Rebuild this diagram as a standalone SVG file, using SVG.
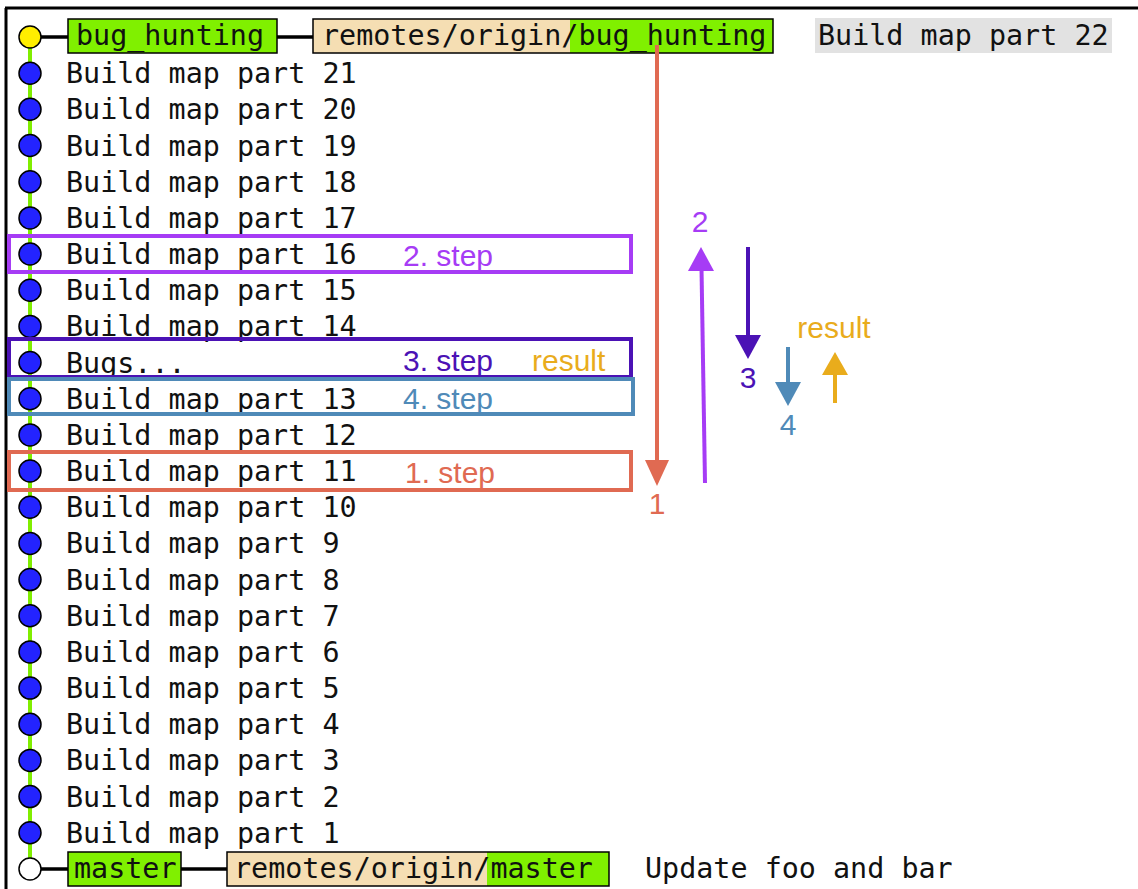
<svg xmlns="http://www.w3.org/2000/svg" width="1138" height="889" viewBox="0 0 1138 889">
<style>
.mono{font-family:"DejaVu Sans Mono","Liberation Mono",monospace;font-size:28.4px;fill:#111}
.lbl{font-family:"Liberation Sans",Arial,sans-serif;font-size:30px}
.dot{fill:#2323ff;stroke:#000;stroke-width:1.5}
.ref{stroke:#000;stroke-width:1.5}
.hb{fill:none;stroke-width:4}
.arr{stroke-width:4;fill:none}
</style>
<rect x="0" y="0" width="1138" height="889" fill="#fff"/>
<path d="M5,8 H1138 M6,8 V889" stroke="#000" stroke-width="3" fill="none"/>

<g id="connectors">
<line x1="30" y1="37" x2="30" y2="869" stroke="#80ee00" stroke-width="4"/>
<line x1="41" y1="37" x2="68" y2="37" stroke="#000" stroke-width="3.5"/>
<line x1="277" y1="37" x2="313" y2="37" stroke="#000" stroke-width="3.5"/>
<line x1="41" y1="869" x2="68" y2="869" stroke="#000" stroke-width="3.5"/>
<line x1="181" y1="869" x2="227" y2="869" stroke="#000" stroke-width="3.5"/>
</g>

<g id="head">
<circle cx="30" cy="37" r="11" fill="#ffee00" stroke="#000" stroke-width="1.5"/>
<rect class="ref" x="68" y="19" width="209" height="34" fill="#80f000"/>
<text class="mono" x="76" y="45">bug_hunting</text>
<rect x="313" y="19" width="257" height="34" fill="#f5deb3"/>
<rect x="570" y="19" width="203" height="34" fill="#80f000"/>
<rect class="ref" x="313" y="19" width="460" height="34" fill="none"/>
<text class="mono" x="322" y="45">remotes/origin/bug_hunting</text>
<rect x="815" y="18" width="297" height="35" fill="#e2e2e2"/>
<text class="mono" x="818" y="45">Build map part 22</text>
</g>

<g id="commits">
<circle class="dot" cx="30" cy="73.2" r="11"/><text class="mono" x="66" y="83">Build map part 21</text>
<circle class="dot" cx="30" cy="109.3" r="11"/><text class="mono" x="66" y="119">Build map part 20</text>
<circle class="dot" cx="30" cy="145.5" r="11"/><text class="mono" x="66" y="155.5">Build map part 19</text>
<circle class="dot" cx="30" cy="181.7" r="11"/><text class="mono" x="66" y="191.7">Build map part 18</text>
<circle class="dot" cx="30" cy="217.9" r="11"/><text class="mono" x="66" y="227.9">Build map part 17</text>
<circle class="dot" cx="30" cy="254" r="11"/><text class="mono" x="66" y="264">Build map part 16</text>
<circle class="dot" cx="30" cy="290.2" r="11"/><text class="mono" x="66" y="300.2">Build map part 15</text>
<circle class="dot" cx="30" cy="326.4" r="11"/><text class="mono" x="66" y="336.4">Build map part 14</text>
<circle class="dot" cx="30" cy="362.5" r="11"/><text class="mono" x="66" y="372.5">Bugs...</text>
<circle class="dot" cx="30" cy="398.7" r="11"/><text class="mono" x="66" y="408.7">Build map part 13</text>
<circle class="dot" cx="30" cy="434.9" r="11"/><text class="mono" x="66" y="444.9">Build map part 12</text>
<circle class="dot" cx="30" cy="471" r="11"/><text class="mono" x="66" y="481">Build map part 11</text>
<circle class="dot" cx="30" cy="507.2" r="11"/><text class="mono" x="66" y="517.2">Build map part 10</text>
<circle class="dot" cx="30" cy="543.4" r="11"/><text class="mono" x="66" y="553.4">Build map part 9</text>
<circle class="dot" cx="30" cy="579.6" r="11"/><text class="mono" x="66" y="589.6">Build map part 8</text>
<circle class="dot" cx="30" cy="615.7" r="11"/><text class="mono" x="66" y="625.7">Build map part 7</text>
<circle class="dot" cx="30" cy="651.9" r="11"/><text class="mono" x="66" y="661.9">Build map part 6</text>
<circle class="dot" cx="30" cy="688.1" r="11"/><text class="mono" x="66" y="698.1">Build map part 5</text>
<circle class="dot" cx="30" cy="724.2" r="11"/><text class="mono" x="66" y="734.2">Build map part 4</text>
<circle class="dot" cx="30" cy="760.4" r="11"/><text class="mono" x="66" y="770.4">Build map part 3</text>
<circle class="dot" cx="30" cy="796.6" r="11"/><text class="mono" x="66" y="806.6">Build map part 2</text>
<circle class="dot" cx="30" cy="832.8" r="11"/><text class="mono" x="66" y="842.8">Build map part 1</text>
</g>

<g id="master">
<circle cx="30" cy="869" r="11" fill="#fff" stroke="#000" stroke-width="1.5"/>
<rect class="ref" x="68" y="852" width="113" height="34" fill="#80f000"/>
<text class="mono" x="74" y="878">master</text>
<rect x="227" y="852" width="260" height="34" fill="#f5deb3"/>
<rect x="487" y="852" width="122" height="34" fill="#80f000"/>
<rect class="ref" x="227" y="852" width="382" height="34" fill="none"/>
<text class="mono" x="234" y="878">remotes/origin/master</text>
<text class="mono" x="645" y="878">Update foo and bar</text>
</g>

<g id="step2">
<rect class="hb" x="9" y="236" width="622" height="36" stroke="#a63cf5"/>
<text class="lbl" x="403" y="266" fill="#a63cf5">2. step</text>
</g>
<g id="step3">
<rect class="hb" x="9" y="339" width="622" height="38" stroke="#4b12b5"/>
<text class="lbl" x="403" y="371" fill="#4b12b5">3. step</text>
<text class="lbl" x="532" y="371" fill="#e9ac1c">result</text>
</g>
<g id="step4">
<rect class="hb" x="9" y="379" width="624" height="35" stroke="#4f8ab8"/>
<text class="lbl" x="403" y="409" fill="#4f8ab8">4. step</text>
</g>
<g id="step1">
<rect class="hb" x="9" y="452" width="622" height="38" stroke="#e06a52"/>
<text class="lbl" x="405" y="483" fill="#e06a52">1. step</text>
</g>

<g id="arrows">
<line class="arr" x1="657" y1="45" x2="657" y2="462" stroke="#e06a52"/>
<polygon points="645,460 669,460 657,486" fill="#e06a52"/>
<text class="lbl" x="657" y="514" text-anchor="middle" fill="#e06a52">1</text>
<line class="arr" x1="705" y1="483" x2="701.5" y2="268" stroke="#a63cf5"/>
<polygon points="688,271 714,271 701,247" fill="#a63cf5"/>
<text class="lbl" x="700" y="232" text-anchor="middle" fill="#a63cf5">2</text>
<line class="arr" x1="748" y1="247" x2="748" y2="337" stroke="#4b12b5"/>
<polygon points="735,335 761,335 748,359" fill="#4b12b5"/>
<text class="lbl" x="748" y="388" text-anchor="middle" fill="#4b12b5">3</text>
<line class="arr" x1="788" y1="347" x2="788" y2="384" stroke="#4f8ab8"/>
<polygon points="775,382 801,382 788,406" fill="#4f8ab8"/>
<text class="lbl" x="788" y="435" text-anchor="middle" fill="#4f8ab8">4</text>
<line class="arr" x1="835" y1="403" x2="835" y2="373" stroke="#e9ac1c"/>
<polygon points="822,375 848,375 835,352" fill="#e9ac1c"/>
<text class="lbl" x="834" y="338" text-anchor="middle" fill="#e9ac1c">result</text>
</g>
</svg>
